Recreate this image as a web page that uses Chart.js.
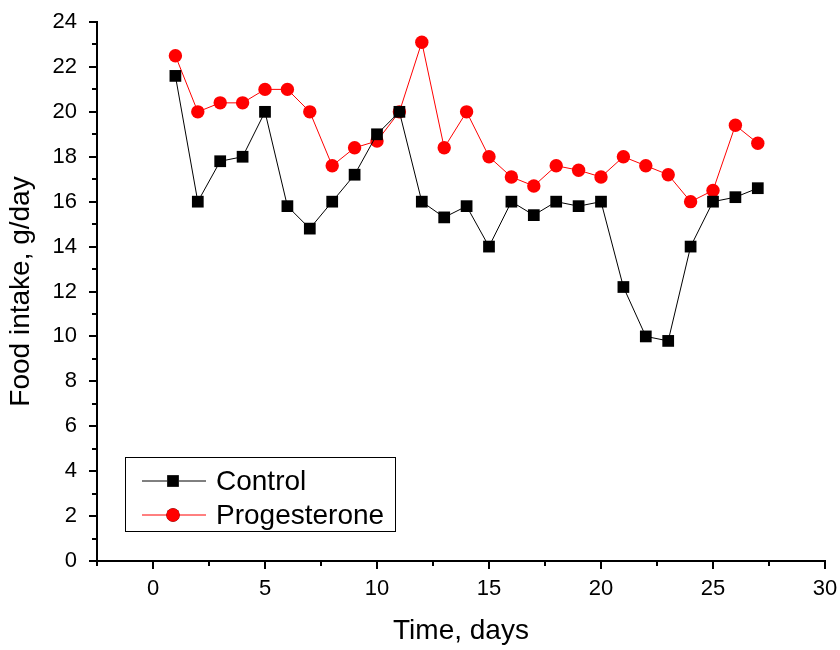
<!DOCTYPE html>
<html>
<head>
<meta charset="utf-8">
<script src="https://cdn.jsdelivr.net/npm/chart.js@4/dist/chart.umd.min.js"></script>
<style>
  body { margin: 0; background: #fff; }
  #wrap { width: 840px; height: 650px; }
</style>
</head>
<body>
<div id="wrap"><canvas id="food_chart"></canvas></div>
<script>
const days = [1, 2, 3, 4, 5, 6, 7, 8, 9, 10, 11, 12, 13, 14, 15, 16, 17, 18, 19, 20, 21, 22, 23, 24, 25, 26, 27];
const control = [21.6, 16.0, 17.8, 18.0, 20.0, 15.8, 14.8, 16.0, 17.2, 19.0, 20.0, 16.0, 15.3, 15.8, 14.0, 16.0, 15.4, 16.0, 15.8, 16.0, 12.2, 10.0, 9.8, 14.0, 16.0, 16.2, 16.6];
const progesterone = [22.5, 20.0, 20.4, 20.4, 21.0, 21.0, 20.0, 17.6, 18.4, 18.7, 20.0, 23.1, 18.4, 20.0, 18.0, 17.1, 16.7, 17.6, 17.4, 17.1, 18.0, 17.6, 17.2, 16.0, 16.5, 19.4, 18.6];
const xTicks = [0, 5, 10, 15, 20, 25, 30];
const yTicks = [0, 2, 4, 6, 8, 10, 12, 14, 16, 18, 20, 22, 24];

const FONT = '"Liberation Sans", Arial, sans-serif';

function pts(ys) {
  return days.map((d, i) => ({x: d, y: ys[i]}));
}

// no extra room for overhanging labels, the layout padding handles it
function noOverhang(s) {
  s.paddingLeft = 0;
  s.paddingRight = 0;
  s.paddingTop = 0;
  s.paddingBottom = 0;
}

// tick marks outside the axes, major and minor
const tickMarks = {
  id: 'tickMarks',
  afterDraw(chart) {
    const ctx = chart.ctx;
    const xs = chart.scales.x, ys = chart.scales.y;
    const area = chart.chartArea;
    ctx.save();
    ctx.strokeStyle = '#000';
    ctx.lineWidth = 2;
    ctx.beginPath();
    for (let v = -2.5; v <= 30; v += 2.5) {
      const px = Math.round(xs.getPixelForValue(v));
      const len = v % 5 === 0 ? 8 : 5;
      ctx.moveTo(px, area.bottom);
      ctx.lineTo(px, area.bottom + len);
    }
    for (let v = 0; v <= 24; v += 1) {
      const py = Math.round(ys.getPixelForValue(v));
      const len = v % 2 === 0 ? 8 : 5;
      ctx.moveTo(area.left, py);
      ctx.lineTo(area.left - len, py);
    }
    ctx.stroke();
    ctx.restore();
  }
};

// legend box inside the plot
const boxLegend = {
  id: 'boxLegend',
  afterDraw(chart) {
    const ctx = chart.ctx;
    const left = 125, top = 457, w = 270, h = 74;
    ctx.save();
    ctx.fillStyle = '#fff';
    ctx.fillRect(left, top, w, h);
    ctx.strokeStyle = '#000';
    ctx.lineWidth = 1;
    ctx.strokeRect(left + 0.5, top + 0.5, w, h);
    ctx.font = '28px ' + FONT;
    ctx.textBaseline = 'middle';
    chart.data.datasets.forEach((ds, i) => {
      const y = 481 + i * 34;
      ctx.strokeStyle = ds.borderColor;
      ctx.lineWidth = 1;
      ctx.beginPath();
      ctx.moveTo(142, y);
      ctx.lineTo(206, y);
      ctx.stroke();
      Chart.helpers.drawPoint(ctx, {
        pointStyle: ds.pointStyle, radius: ds.pointRadius, borderWidth: 0
      }, 173, y);
      ctx.fillStyle = ds.pointBackgroundColor;
      ctx.fill();
      ctx.fillStyle = '#000';
      ctx.fillText(ds.label, 216, y + 1);
    });
    ctx.restore();
  }
};

new Chart(document.getElementById('food_chart'), {
  type: 'scatter',
  data: {
    datasets: [
      {
        label: 'Control',
        data: pts(control),
        showLine: true,
        borderColor: '#000000',
        borderWidth: 1,
        pointStyle: 'rect',
        pointRadius: 8.3,
        pointBackgroundColor: '#000000',
        pointBorderWidth: 0
      },
      {
        label: 'Progesterone',
        data: pts(progesterone),
        showLine: true,
        borderColor: '#ff0000',
        borderWidth: 1,
        pointStyle: 'circle',
        pointRadius: 6.7,
        pointBackgroundColor: '#ff0000',
        pointBorderWidth: 0
      }
    ]
  },
  options: {
    responsive: true,
    maintainAspectRatio: false,
    animation: false,
    layout: { padding: { left: 4, right: 15, top: 22, bottom: 2 } },
    plugins: {
      legend: { display: false },
      tooltip: { enabled: false }
    },
    scales: {
      x: {
        type: 'linear',
        min: -2.5,
        max: 30,
        afterBuildTicks: s => { s.ticks = xTicks.map(v => ({value: v})); },
        afterFit: s => { s.height = 87; noOverhang(s); },
        grid: { display: false, drawTicks: false },
        border: { display: true, color: '#000', width: 2 },
        ticks: { color: '#000', font: { family: FONT, size: 22 }, padding: 15, maxRotation: 0 },
        title: { display: true, text: 'Time, days', color: '#000', font: { family: FONT, size: 28 }, padding: { top: 12, bottom: 0 } }
      },
      y: {
        min: 0,
        max: 24,
        afterBuildTicks: s => { s.ticks = yTicks.map(v => ({value: v})); },
        afterFit: s => { s.width = 93; noOverhang(s); },
        grid: { display: false, drawTicks: false },
        border: { display: true, color: '#000', width: 2 },
        ticks: { color: '#000', font: { family: FONT, size: 22 }, padding: 20 },
        title: { display: true, text: 'Food intake, g/day', color: '#000', font: { family: FONT, size: 28 }, padding: { top: 0, bottom: 15 } }
      }
    }
  },
  plugins: [tickMarks, boxLegend]
});
</script>
</body>
</html>
